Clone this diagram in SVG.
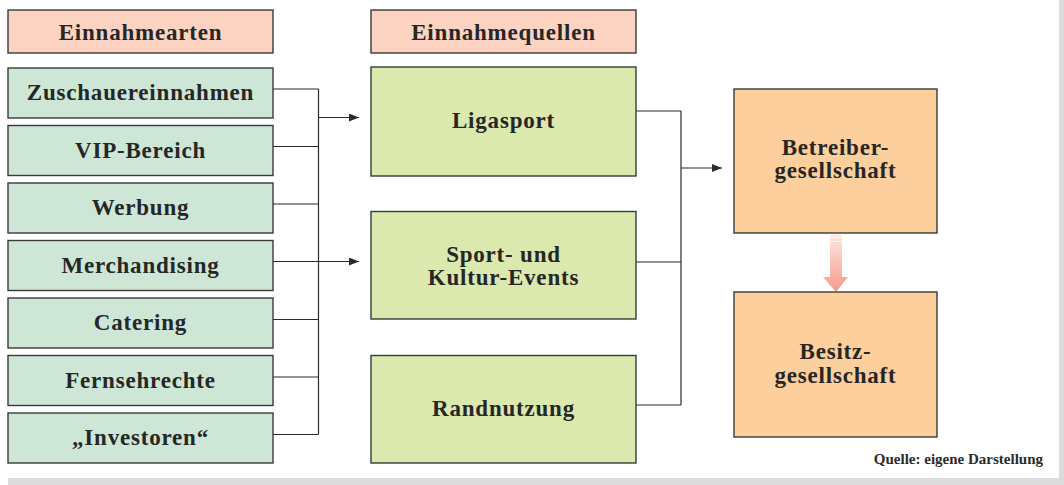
<svg xmlns="http://www.w3.org/2000/svg" width="1064" height="485" viewBox="0 0 1064 485">
<defs>
<style>
.box{stroke:#3a3a3a;stroke-width:1.4}
.hdr{fill:#fcd3c1}
.art{fill:#cde6d6}
.src{fill:#dbe8ae}
.ges{fill:#fccf9c}
.t{font-family:"Liberation Serif","Times New Roman",serif;font-weight:bold;font-size:23px;fill:#262626;text-anchor:middle;letter-spacing:0.8px}
.ln{stroke:#2b2b2b;stroke-width:1.2;fill:none}
.note{font-family:"Liberation Serif","Times New Roman",serif;font-weight:bold;font-size:15px;fill:#2b2b2b;text-anchor:end}
</style>
<marker id="ah" viewBox="0 0 10 8" refX="10" refY="4" markerWidth="10" markerHeight="8" markerUnits="userSpaceOnUse" orient="auto">
<path d="M0,0 L10,4 L0,8 z" fill="#2b2b2b"/>
</marker>
<linearGradient id="fat" x1="0" y1="0" x2="0" y2="1">
<stop offset="0" stop-color="#fde6df"/>
<stop offset="1" stop-color="#f49a88"/>
</linearGradient>
</defs>
<rect x="0" y="0" width="1064" height="485" fill="#ffffff"/>
<rect x="1059" y="0" width="5" height="485" fill="#dcdcdc"/>
<rect x="8" y="478" width="1056" height="7" fill="#dcdcdc"/>

<g id="connectors">
<path class="ln" d="M273,89 H318.5 M273,146.5 H318.5 M273,204 H318.5 M273,319.5 H318.5 M273,377 H318.5 M273,434.5 H318.5 M318.5,89 V434.5"/>
<path class="ln" d="M318.5,117.5 H359" marker-end="url(#ah)"/>
<path class="ln" d="M273,261.5 H359" marker-end="url(#ah)"/>
<path class="ln" d="M636,111 H681 M636,262 H681 M636,405 H681 M681,111 V405"/>
<path class="ln" d="M681,168 H722" marker-end="url(#ah)"/>
<g id="fat-arrow">
<path d="M830,235 H842 V277 H848 L836,292 L823,277 H830 Z" fill="url(#fat)"/>
<path d="M829,237.5 H843 M829,241.5 H843" stroke="#ffffff" stroke-width="1.2"/>
</g>
</g>

<g id="h-arten"><rect class="box hdr" x="8" y="10" width="265" height="43"/><text class="t" x="140.5" y="39.5">Einnahmearten</text></g>
<g id="h-quellen"><rect class="box hdr" x="371" y="10" width="265" height="43"/><text class="t" x="503.5" y="39.5">Einnahmequellen</text></g>

<g id="n-zuschauer"><rect class="box art" x="8" y="68" width="265" height="50"/><text class="t" x="140.5" y="100">Zuschauereinnahmen</text></g>
<g id="n-vip"><rect class="box art" x="8" y="125.5" width="265" height="50"/><text class="t" x="140.5" y="157.5">VIP-Bereich</text></g>
<g id="n-werbung"><rect class="box art" x="8" y="183" width="265" height="50"/><text class="t" x="140.5" y="215">Werbung</text></g>
<g id="n-merch"><rect class="box art" x="8" y="240.5" width="265" height="50"/><text class="t" x="140.5" y="272.5">Merchandising</text></g>
<g id="n-catering"><rect class="box art" x="8" y="298" width="265" height="50"/><text class="t" x="140.5" y="330">Catering</text></g>
<g id="n-fernseh"><rect class="box art" x="8" y="355.5" width="265" height="50"/><text class="t" x="140.5" y="387.5">Fernsehrechte</text></g>
<g id="n-investoren"><rect class="box art" x="8" y="413" width="265" height="50"/><text class="t" x="140.5" y="445">„Investoren“</text></g>

<g id="n-ligasport"><rect class="box src" x="371" y="67" width="265" height="109"/><text class="t" x="503.5" y="128">Ligasport</text></g>
<g id="n-events"><rect class="box src" x="371" y="211.5" width="265" height="107.5"/><text class="t" x="503.5" y="262">Sport- und</text><text class="t" x="503.5" y="285">Kultur-Events</text></g>
<g id="n-rand"><rect class="box src" x="371" y="355.5" width="265" height="107.5"/><text class="t" x="503.5" y="415.5">Randnutzung</text></g>

<g id="n-betreiber"><rect class="box ges" x="734" y="89" width="203" height="144"/><text class="t" x="835.5" y="155">Betreiber-</text><text class="t" x="835.5" y="178">gesellschaft</text></g>
<g id="n-besitz"><rect class="box ges" x="734" y="292" width="203" height="145"/><text class="t" x="835.5" y="359">Besitz-</text><text class="t" x="835.5" y="383">gesellschaft</text></g>

<text class="note" x="1043" y="464">Quelle: eigene Darstellung</text>
</svg>
